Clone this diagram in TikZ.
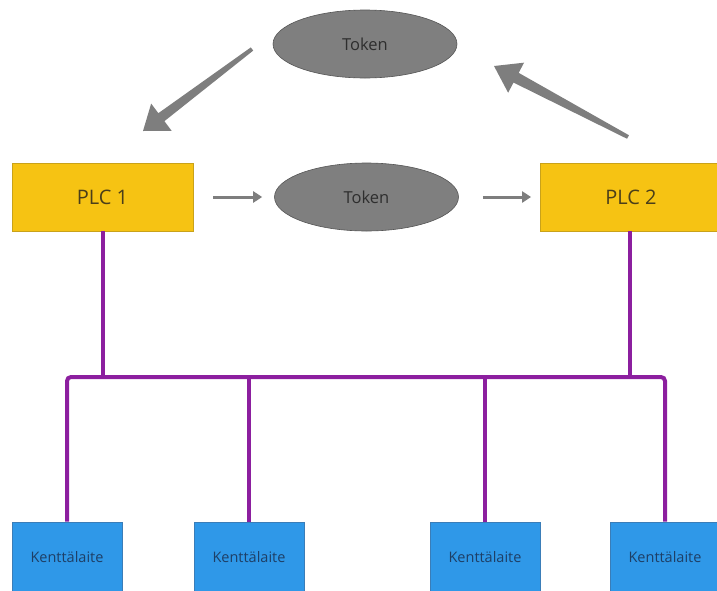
\documentclass[tikz,border=0pt]{standalone}
\usepackage{fontspec}
\setmainfont{Open Sans}
\usetikzlibrary{calc,arrows.meta,shapes.geometric}
\definecolor{plcfill}{HTML}{F6C313}
\definecolor{plcdraw}{HTML}{C9A21A}
\definecolor{devfill}{HTML}{2F98E8}
\definecolor{devdraw}{HTML}{3A7DB8}
\definecolor{buscol}{HTML}{8C1F9F}
\definecolor{tokfill}{HTML}{7F7F7F}
\definecolor{tokdraw}{HTML}{555555}
\definecolor{arrcol}{HTML}{7E7E7E}
\definecolor{plctext}{HTML}{4A3E1A}
\definecolor{devtext}{HTML}{1E3F66}
\definecolor{toktext}{HTML}{2E2E2E}
\tikzset{
  plcbox/.style={rectangle,draw=plcdraw,fill=plcfill,line width=0.8pt,minimum width=181pt,minimum height=68pt,inner sep=0pt,font=\fontsize{20}{22}\selectfont,text=plctext},
  devbox/.style={rectangle,draw=devdraw,fill=devfill,line width=0.8pt,minimum width=110pt,minimum height=70pt,inner sep=0pt,font=\fontsize{14.5}{16}\selectfont,text=devtext},
  tokell/.style={ellipse,draw=tokdraw,fill=tokfill,line width=0.6pt,minimum width=184pt,minimum height=68pt,inner sep=0pt,font=\fontsize{16.5}{18}\selectfont,text=toktext},
  busline/.style={draw=buscol,line width=4pt},
  smallarr/.style={draw=arrcol,line width=3pt,-{Triangle[length=9pt,width=11pt]}},
}
\begin{document}
\begin{tikzpicture}[x=1pt,y=-1pt]
\useasboundingbox (0,0) rectangle (717,590);
\begin{scope}
\clip (0,0) rectangle (717,590);
% nodes
\node[tokell] (tok1) at (365,44) {Token};
\node[plcbox] (plc1) at (102.5,197) {PLC 1};
\node[tokell] (tok2) at (366.5,197) {Token};
\node[plcbox] (plc2) at (631,197) {PLC 2};
\node[devbox] (k1) at (67,557) {Kenttälaite};
\node[devbox] (k2) at (249,557) {Kenttälaite};
\node[devbox] (k3) at (485,557) {Kenttälaite};
\node[devbox] (k4) at (665,557) {Kenttälaite};
% bus
\coordinate (busL) at (67,377);
\coordinate (busR) at (665,377);
\draw[busline,rounded corners=4pt] (k1.north) -- (busL) -- (busR) -- (k4.north);
\draw[busline] (k2.north) -- (k2.north |- busL);
\draw[busline] (k3.north) -- (k3.north |- busL);
\draw[busline] (630,231) -- (630,377);
\draw[busline] (103,231) -- (103,377);
% small arrows
\draw[smallarr,shorten <=20pt,shorten >=12pt] (plc1.east) -- (tok2.west);
\draw[smallarr,shorten <=24pt,shorten >=9pt] (tok2.east) -- (plc2.west);
% big arrows
\coordinate (a1s) at (252,49);
\coordinate (a1t) at (143,131);
\coordinate (a1h) at ($(a1t)!23pt!(a1s)$);
\fill[arrcol] ($(a1s)!2pt!90:(a1t)$) -- ($(a1h)!5pt!90:(a1t)$) -- ($(a1h)!17pt!90:(a1t)$) -- (a1t)
  -- ($(a1h)!17pt!-90:(a1t)$) -- ($(a1h)!5pt!-90:(a1t)$) -- ($(a1s)!2pt!-90:(a1t)$) -- cycle;
\coordinate (a2s) at (628,137);
\coordinate (a2t) at (494,66);
\coordinate (a2h) at ($(a2t)!25pt!(a2s)$);
\fill[arrcol] ($(a2s)!2pt!90:(a2t)$) -- ($(a2h)!5.5pt!90:(a2t)$) -- ($(a2h)!17pt!90:(a2t)$) -- (a2t)
  -- ($(a2h)!17pt!-90:(a2t)$) -- ($(a2h)!5.5pt!-90:(a2t)$) -- ($(a2s)!2pt!-90:(a2t)$) -- cycle;
\end{scope}
\end{tikzpicture}
\end{document}
